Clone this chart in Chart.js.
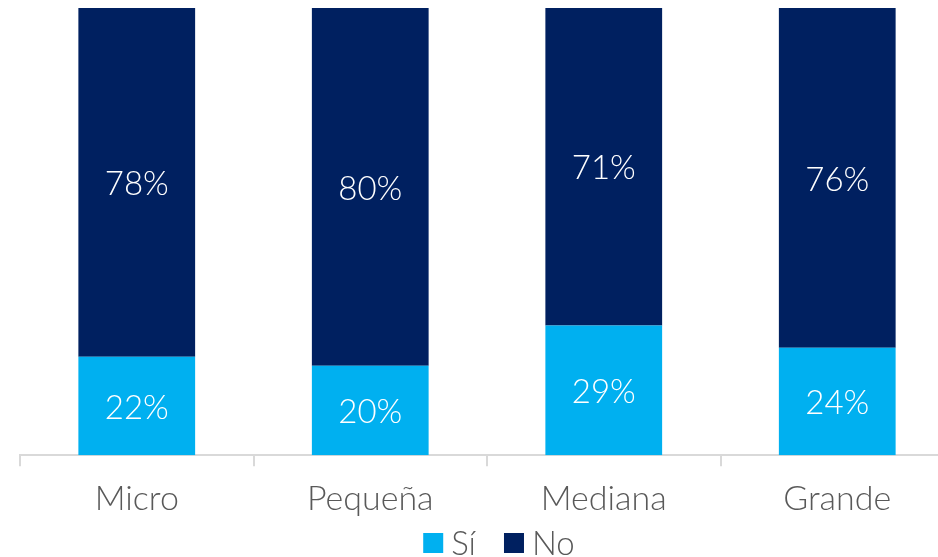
<!DOCTYPE html>
<html>
<head>
<meta charset="utf-8">
<script src="https://cdn.jsdelivr.net/npm/chart.js@4/dist/chart.umd.min.js"></script>
<style>
  html, body { margin:0; padding:0; background:#fff; overflow:hidden; }
  #wrap { width:954px; height:557px; }
</style>
</head>
<body>
<div id="wrap"><canvas id="chart"></canvas></div>
<script>
// data
const categories = ['Micro', 'Pequeña', 'Mediana', 'Grande'];
const siValues = [22, 20, 29, 24];
const noValues = [78, 80, 71, 76];
const seriesNames = ['Sí', 'No'];
const seriesColors = ['#00b0f0', '#002060'];

const FONT = 'Lato, "Open Sans", sans-serif';

// % labels in the middle of each segment
const segmentLabels = {
  id: 'segmentLabels',
  afterDatasetsDraw(chart){
    const ctx = chart.ctx;
    ctx.save();
    ctx.fillStyle = '#ffffff';
    ctx.font = '300 33px ' + FONT;
    ctx.textAlign = 'center';
    ctx.textBaseline = 'middle';
    chart.data.datasets.forEach((ds, di)=>{
      chart.getDatasetMeta(di).data.forEach((bar, i)=>{
        const mid = (bar.y + bar.base) / 2;
        ctx.fillText(ds.data[i] + '%', bar.x, mid + 2);
      });
    });
    ctx.restore();
  }
};

// simple legend under the axis (box, small gap, text)
const bottomLegend = {
  id: 'bottomLegend',
  afterDraw(chart){
    const ctx = chart.ctx;
    const box = 20, gap = 8, between = 28, cy = 543;
    ctx.save();
    ctx.font = '300 33px ' + FONT;
    ctx.textBaseline = 'middle';
    const items = chart.data.datasets.map(ds => ({ text: ds.label, color: ds.backgroundColor, w: ctx.measureText(ds.label).width }));
    const total = items.reduce((s,it)=> s + box + gap + it.w, 0) + between * (items.length - 1);
    let x = 499 - total / 2;
    items.forEach(it=>{
      ctx.fillStyle = it.color;
      ctx.fillRect(x, cy - box/2, box, box);
      x += box + gap;
      ctx.fillStyle = '#595959';
      ctx.fillText(it.text, x, cy + 1);
      x += it.w + between;
    });
    ctx.restore();
  }
};

new Chart(document.getElementById('chart'), {
  type: 'bar',
  data: {
    labels: categories,
    datasets: [
      { label: seriesNames[0], data: siValues, backgroundColor: seriesColors[0], categoryPercentage: 1, barPercentage: 0.5 },
      { label: seriesNames[1], data: noValues, backgroundColor: seriesColors[1], categoryPercentage: 1, barPercentage: 0.5 }
    ]
  },
  options: {
    responsive: true,
    maintainAspectRatio: false,
    animation: false,
    layout: { padding: { left: 20, right: 0, top: 8, bottom: 26 } },
    plugins: {
      legend: { display: false },
      tooltip: { enabled: false }
    },
    scales: {
      x: {
        stacked: true,
        grid: { offset: true, drawOnChartArea: false, drawTicks: true, tickLength: 11, color: '#d9d9d9', lineWidth: 2 },
        border: { color: '#d9d9d9', width: 2 },
        ticks: { font: { family: FONT, size: 34, weight: 300, lineHeight: 1.2 }, color: '#595959', padding: 12 }
      },
      y: {
        stacked: true,
        display: false,
        min: 0,
        max: 100
      }
    }
  },
  plugins: [segmentLabels, bottomLegend]
});
</script>
</body>
</html>
